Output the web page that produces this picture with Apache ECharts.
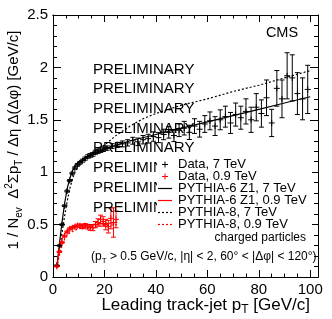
<!DOCTYPE html>
<html><head><meta charset="utf-8">
<script src="https://cdn.jsdelivr.net/npm/echarts@6/dist/echarts.min.js"></script>
<style>html,body{margin:0;padding:0;background:#fff}#c{width:332px;height:319px}</style>
</head><body><div id="c"></div>
<script>
const FONT = '"Liberation Sans", Arial, Helvetica, sans-serif';
// x ticks
const xTicks = [0, 20, 40, 60, 80, 100];
const yTicks = [0, 0.5, 1, 1.5, 2, 2.5];
// Data, 7 TeV
const data7x = [1.5,2.5,3.5,4.5,5.5,6.5,7.5,8.5,9.5,10.5,11.5,12.5,13.5,14.5,15.5,16.5,17.5,18.5,19.5,
  21,23,25,27,29,31,33,35,37,39,41,43,45,47,49,51,53,55,57,59,61,63,65,67,69,71,73,75,77,79,81,83,85,87,89,91,93,95,97,99];
const data7y = [0.11,0.30,0.50,0.68,0.82,0.92,0.99,1.04,1.07,1.09,1.11,1.13,1.15,1.16,1.17,1.19,1.20,1.21,1.22,
  1.23,1.25,1.26,1.27,1.28,1.30,1.29,1.31,1.32,1.34,1.33,1.36,1.38,1.35,1.40,1.42,1.38,1.44,1.41,1.46,1.49,1.44,1.50,1.53,1.47,1.55,1.52,1.58,1.50,1.62,1.56,1.71,1.47,1.80,1.70,1.92,1.90,1.75,1.70,1.79];
const data7e = [0.005,0.006,0.007,0.008,0.009,0.01,0.01,0.011,0.012,0.013,0.014,0.015,0.016,0.017,0.018,0.019,0.02,0.021,0.022,
  0.02,0.022,0.025,0.028,0.03,0.033,0.036,0.04,0.042,0.045,0.048,0.05,0.055,0.058,0.06,0.065,0.068,0.07,0.075,0.08,0.085,0.09,0.095,0.1,0.1,0.11,0.11,0.12,0.12,0.13,0.13,0.17,0.13,0.17,0.18,0.22,0.22,0.2,0.2,0.23];
// Data, 0.9 TeV
const data09x = [1.5,2.5,3.5,4.5,5.5,6.5,7.5,8.5,9.5,10.5,11.5,12.5,13.5,14.5,15.5,16.5,17.5,18.5,19.5,20.5,21.5,22.5,23.5,24.5];
const data09y = [0.10,0.24,0.33,0.39,0.43,0.46,0.47,0.48,0.49,0.49,0.48,0.49,0.48,0.47,0.47,0.50,0.52,0.55,0.53,0.50,0.48,0.56,0.52,0.55];
const data09e = [0.005,0.006,0.007,0.008,0.009,0.01,0.011,0.012,0.014,0.016,0.018,0.02,0.022,0.025,0.028,0.03,0.035,0.04,0.045,0.05,0.06,0.1,0.14,0.08];
// PYTHIA-6 Z1, 7 TeV
const p6_7x = [1.5,2.5,3.5,4.5,5.5,6.5,7.5,8.5,10,12,15,20,30,40,50,60,70,80,90,100];
const p6_7y = [0.10,0.32,0.52,0.70,0.84,0.94,1.01,1.06,1.10,1.13,1.17,1.22,1.30,1.36,1.42,1.48,1.54,1.60,1.66,1.72];
// PYTHIA-8, 7 TeV
const p8_7x = [1.5,2.5,3.5,4.5,5.5,6.5,7.5,8.5,10,12,15,20,25,30,35,40,45,50,60,70,80,90,100];
const p8_7y = [0.09,0.25,0.42,0.58,0.72,0.84,0.93,1.00,1.06,1.12,1.18,1.26,1.36,1.44,1.51,1.56,1.60,1.64,1.70,1.77,1.83,1.90,1.97];
// PYTHIA-6 Z1, 0.9 TeV
const p6_09x = [1.5,2.5,3.5,4.5,5.5,6.5,8,10,12,15,20,25];
const p6_09y = [0.10,0.27,0.36,0.41,0.44,0.46,0.48,0.49,0.50,0.50,0.51,0.52];
// PYTHIA-8, 0.9 TeV
const p8_09x = [1.5,2.5,3.5,4.5,5.5,6.5,8,10,12,15,20,25];
const p8_09y = [0.09,0.21,0.30,0.36,0.40,0.42,0.44,0.46,0.47,0.48,0.49,0.50];

const legendLabels = ['Data, 7 TeV','Data, 0.9 TeV','PYTHIA-6 Z1, 7 TeV','PYTHIA-6 Z1, 0.9 TeV','PYTHIA-8, 7 TeV','PYTHIA-8, 0.9 TeV'];

const zip = (xs, ys, es) => xs.map((x, i) => es ? [x, ys[i], es[i]] : [x, ys[i]]);

function errRender(color) {
  return function (params, api) {
    const x = api.value(0), y = api.value(1), e = api.value(2);
    const c = api.coord([x, y]);
    const t = api.coord([x, y + e]);
    const b = api.coord([x, y - e]);
    const st = { stroke: color, lineWidth: 1 };
    return { type: 'group', children: [
      { type: 'line', shape: { x1: c[0], y1: t[1], x2: c[0], y2: b[1] }, style: st },
      { type: 'line', shape: { x1: c[0] - 2.5, y1: t[1], x2: c[0] + 2.5, y2: t[1] }, style: st },
      { type: 'line', shape: { x1: c[0] - 2.5, y1: b[1], x2: c[0] + 2.5, y2: b[1] }, style: st },
      { type: 'line', shape: { x1: c[0] - 3, y1: c[1], x2: c[0] + 3, y2: c[1] }, style: st },
      { type: 'line', shape: { x1: c[0], y1: c[1] - 3, x2: c[0], y2: c[1] + 3 }, style: st }
    ]};
  };
}

const axCommon = { type: 'value', min: 0, max: 103, splitLine: { show: false },
  axisLine: { show: true, onZero: false, lineStyle: { color: '#000', width: 1 } } };
const xMajor = (pos, label) => Object.assign({}, axCommon, { position: pos, interval: 20,
  axisTick: { show: true, inside: true, length: 7, lineStyle: { color: '#000' } },
  axisLabel: { show: label, color: '#000', fontSize: 15, fontFamily: FONT, margin: 5, showMaxLabel: false,
    formatter: v => xTicks.includes(v) ? String(v) : '' } });
const xMinor = (pos) => Object.assign({}, axCommon, { position: pos, interval: 5,
  axisTick: { show: true, inside: true, length: 3.5, lineStyle: { color: '#000' } },
  axisLabel: { show: false } });
const yAx = (pos, label) => ({ type: 'value', position: pos, min: 0, max: 2.5, interval: 0.5,
  splitLine: { show: false },
  axisLine: { show: true, onZero: false, lineStyle: { color: '#000', width: 1 } },
  axisTick: { show: true, inside: true, length: 8, lineStyle: { color: '#000' } },
  minorTick: { show: true, splitNumber: 5, length: 4, lineStyle: { color: '#000' } },
  axisLabel: { show: label, color: '#000', fontSize: 15, fontFamily: FONT, margin: 5,
    formatter: v => yTicks.includes(v) ? String(v) : '' } });

const graphics = [];
graphics.push({ type: 'text', x: 282, y: 33, z: 50, style: { text: 'CMS', font: '14.5px ' + FONT, fill: '#000', align: 'center', verticalAlign: 'middle' } });
for (let i = 0; i < 8; i++) {
  graphics.push({ type: 'text', x: 93, y: 69.5 + 19.7 * i, z: 50, style: { text: 'PRELIMINARY', font: '15px ' + FONT, fill: '#000', align: 'left', verticalAlign: 'middle' } });
}
graphics.push({ type: 'rect', x: 157, y: 158, z: 60, shape: { width: 155, height: 73 }, style: { fill: '#fff' } });
const legY = i => 164.5 + 12 * i;
const lx = 165;
// data markers
[['#000', 0], ['#ff0000', 1]].forEach(([col, i]) => {
  const y = legY(i);
  graphics.push({ type: 'line', z: 61, shape: { x1: lx - 3, y1: y, x2: lx + 3, y2: y }, style: { stroke: col, lineWidth: 1 } });
  graphics.push({ type: 'line', z: 61, shape: { x1: lx, y1: y - 3, x2: lx, y2: y + 3 }, style: { stroke: col, lineWidth: 1 } });
});
graphics.push({ type: 'line', z: 61, shape: { x1: 158, y1: legY(2), x2: 172, y2: legY(2) }, style: { stroke: '#000', lineWidth: 1.2 } });
graphics.push({ type: 'line', z: 61, shape: { x1: 158, y1: legY(3), x2: 172, y2: legY(3) }, style: { stroke: '#ff0000', lineWidth: 1.2 } });
graphics.push({ type: 'line', z: 61, shape: { x1: 158, y1: legY(4), x2: 172, y2: legY(4) }, style: { stroke: '#000', lineWidth: 1.2, lineDash: [2, 2] } });
graphics.push({ type: 'line', z: 61, shape: { x1: 158, y1: legY(5), x2: 172, y2: legY(5) }, style: { stroke: '#ff0000', lineWidth: 1.2, lineDash: [2, 2] } });
legendLabels.forEach((t, i) => {
  graphics.push({ type: 'text', x: 178, y: legY(i), z: 61, style: { text: t, font: '13px ' + FONT, fill: '#000', align: 'left', verticalAlign: 'middle' } });
});
graphics.push({ type: 'text', x: 306, y: 238, z: 61, style: { text: 'charged particles', font: '12px ' + FONT, fill: '#000', align: 'right', verticalAlign: 'middle' } });
graphics.push({ type: 'text', x: 91, y: 257, z: 61, style: {
  text: '{n|(p}{s|T}{n| > 0.5 GeV/c, |η| < 2, 60° < |Δφ| < 120°)}', align: 'left', verticalAlign: 'middle',
  rich: { n: { fontSize: 12, fontFamily: FONT, fill: '#000', lineHeight: 16, verticalAlign: 'middle' },
          s: { fontSize: 8, fontFamily: FONT, fill: '#000', lineHeight: 8, verticalAlign: 'bottom' } } } });
// x title
graphics.push({ type: 'text', x: 310, y: 305, z: 61, style: {
  text: '{n|Leading track-jet p}{s|T}{n| [GeV/c]}', align: 'right', verticalAlign: 'middle',
  rich: { n: { fontSize: 17, fontFamily: FONT, fill: '#000', lineHeight: 22, verticalAlign: 'middle' },
          s: { fontSize: 12, fontFamily: FONT, fill: '#000', lineHeight: 12, verticalAlign: 'bottom' } } } });
// y title
graphics.push({ type: 'text', x: 14, y: 140, z: 61, rotation: Math.PI / 2, style: {
  text: '{n|1 / N}{s|ev}{n|  Δ}{p|2}{n|Σp}{s|T}{n| / Δη Δ(Δφ) [GeV/c]}', align: 'center', verticalAlign: 'middle',
  rich: { n: { fontSize: 15, fontFamily: FONT, fill: '#000', lineHeight: 20, verticalAlign: 'middle' },
          s: { fontSize: 10, fontFamily: FONT, fill: '#000', lineHeight: 10, verticalAlign: 'bottom' },
          p: { fontSize: 10, fontFamily: FONT, fill: '#000', lineHeight: 10, verticalAlign: 'top' } } } });

const chart = echarts.init(document.getElementById('c'), null, { renderer: 'canvas' });
chart.setOption({
  animation: false,
  backgroundColor: '#fff',
  grid: { left: 53, right: 14, top: 15, bottom: 42, containLabel: false },
  xAxis: [xMajor('bottom', true), xMinor('bottom'), xMajor('top', false), xMinor('top')],
  yAxis: [yAx('left', true), yAx('right', false)],
  graphic: graphics,
  series: [
    { type: 'line', data: zip(p6_7x, p6_7y), showSymbol: false, lineStyle: { color: '#000', width: 1.2 }, z: 3 },
    { type: 'line', data: zip(p8_7x, p8_7y), showSymbol: false, lineStyle: { color: '#000', width: 1.2, type: [2, 2] }, z: 3 },
    { type: 'line', data: zip(p6_09x, p6_09y), showSymbol: false, lineStyle: { color: '#ff0000', width: 1.2 }, z: 3 },
    { type: 'line', data: zip(p8_09x, p8_09y), showSymbol: false, lineStyle: { color: '#ff0000', width: 1.2, type: [2, 2] }, z: 3 },
    { type: 'custom', data: zip(data7x, data7y, data7e), renderItem: errRender('#000'), encode: { x: 0, y: 1 }, z: 4 },
    { type: 'custom', data: zip(data09x, data09y, data09e), renderItem: errRender('#ff0000'), encode: { x: 0, y: 1 }, z: 4 }
  ]
});
</script></body></html>
